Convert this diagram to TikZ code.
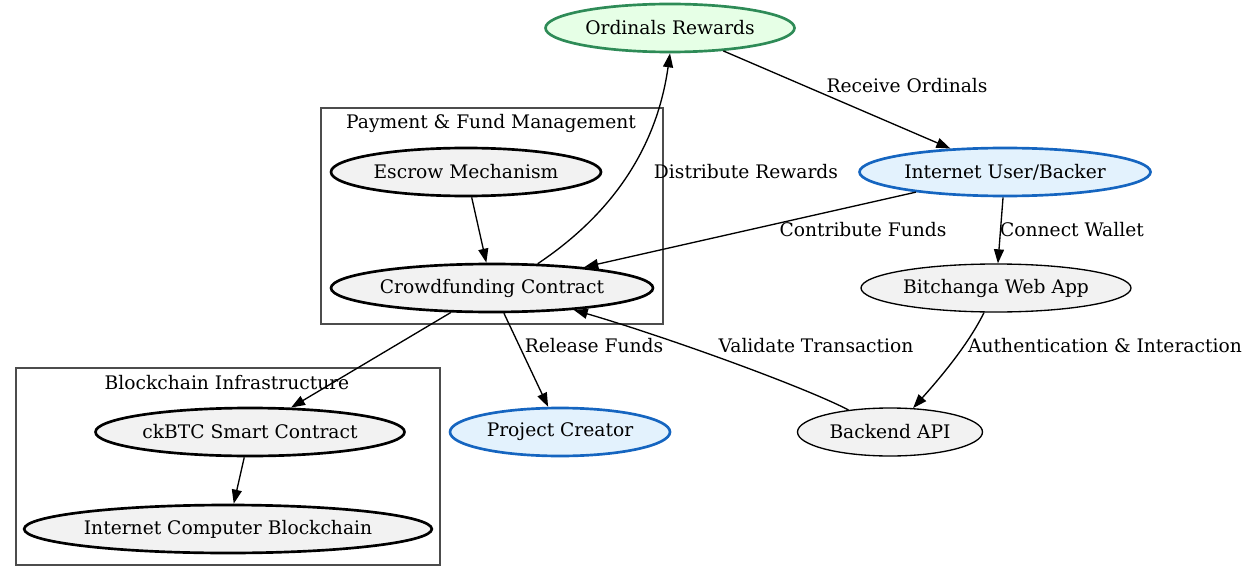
\documentclass[tikz,border=0pt]{standalone}
\usepackage{fontspec}
\setmainfont{DejaVu Serif}
\usepackage{tikz}
\usetikzlibrary{shapes.geometric}
\usetikzlibrary{arrows.meta}
\usetikzlibrary{positioning}

\definecolor{rewardfill}{HTML}{E6FFE6}
\definecolor{rewardline}{HTML}{2E8B57}
\definecolor{userfill}{HTML}{E3F2FD}
\definecolor{userline}{HTML}{1565C0}
\definecolor{grayfill}{HTML}{F2F2F2}

\begin{document}
\begin{tikzpicture}
    [
    x=0.75pt, y=-0.75pt,
    font=\fontsize{14}{17}\selectfont,
    gnode/.style={ellipse,draw,fill=grayfill,line width=1pt,inner sep=0pt,minimum height=36pt},
    boldnode/.style={gnode,line width=2pt},
    usernode/.style={gnode,draw=userline,fill=userfill,line width=2pt},
    rewardnode/.style={gnode,draw=rewardline,fill=rewardfill,line width=2pt},
    cluster/.style={draw=black!70,line width=1pt},
    arr/.style={-{Triangle[length=10.5pt,width=7.5pt]},line width=1pt},
    lbl/.style={inner sep=0pt},
    ]
    \useasboundingbox (0,0) rectangle (1248,581);

    % clusters
    \draw [cluster] (321,108) rectangle (663,324);
    \node (paylbl) at (491,123) {Payment \& Fund Management};
    \draw [cluster] (16,368) rectangle (440,565);
    \node (chainlbl) at (227,383) {Blockchain Infrastructure};

    % nodes
    \node (ord) at (670,28) [rewardnode, minimum width=186.75pt] {Ordinals Rewards};
    \node (user) at (1005,172) [usernode, minimum width=218.25pt] {Internet User/Backer};
    \node (escrow) at (466,172) [boldnode, minimum width=202.5pt] {Escrow Mechanism};
    \node (crowd) at (492,288) [boldnode, minimum width=241.5pt] {Crowdfunding Contract};
    \node (webapp) at (996,288) [gnode, minimum width=202.5pt] {Bitchanga Web App};
    \node (ckbtc) at (250,432) [boldnode, minimum width=231.75pt] {ckBTC Smart Contract};
    \node (creator) at (560,432) [usernode, minimum width=165pt] {Project Creator};
    \node (backend) at (890,432) [gnode, minimum width=138.75pt] {Backend API};
    \node (icb) at (228,529) [boldnode, minimum width=303.75pt] {Internet Computer Blockchain};

    % edges
    \draw [arr] (ord) -- (user) node [lbl] at (907,86) {Receive Ordinals};
    \draw [arr] (crowd.28) .. controls (600,222) and (655,160) .. (ord.south)
        node [lbl] at (746,172) {Distribute Rewards};
    \draw [arr] (user) -- (crowd) node [lbl] at (863,230) {Contribute Funds};
    \draw [arr] (user) -- (webapp) node [lbl] at (1072,230) {Connect Wallet};
    \draw [arr] (escrow) -- (crowd);
    \draw [arr] (crowd) -- (ckbtc);
    \draw [arr] (crowd) -- (creator) node [lbl] at (594,346) {Release Funds};
    \draw [arr] (webapp.-116) .. controls (968,345) and (940,378) .. (backend.46)
        node [lbl] at (1105,346) {Authentication \& Interaction};
    \draw [arr] (backend.152) .. controls (800,385) and (660,335) .. (crowd.-15)
        node [lbl] at (816,346) {Validate Transaction};
    \draw [arr] (ckbtc) -- (icb);
\end{tikzpicture}
\end{document}
